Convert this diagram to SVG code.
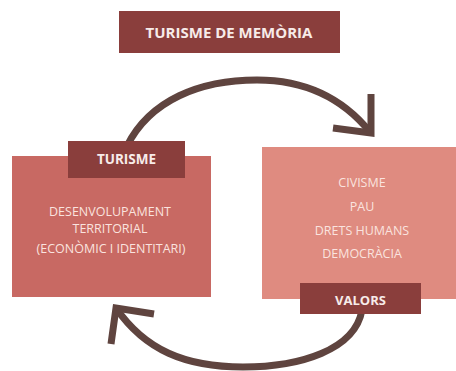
<svg xmlns="http://www.w3.org/2000/svg" width="456" height="371" viewBox="0 0 456 371">
<style>
.arrow{fill:none;stroke:#5f443f;stroke-width:7;stroke-linejoin:miter;stroke-linecap:butt}
.dark{fill:#8a3e3c}
.lbl{font-family:"Open Sans","Liberation Sans",sans-serif;font-weight:bold;fill:#f7ebe9;text-anchor:middle}
.body{font-family:"Open Sans","Liberation Sans",sans-serif;font-size:12.5px;fill:#fae3df;text-anchor:middle}
</style>
<rect width="456" height="371" fill="#ffffff"/>
<g id="connectors">
<path class="arrow" d="M127,146 C150,100 200,80 257,80 C300,80 340,95 370,132"/>
<polyline class="arrow" points="371,94 371,133 333,128"/>
<path class="arrow" d="M362,310 C355,350 300,367 243,367 C185,367 145,350 116,308"/>
<polyline class="arrow" points="111,344 116,308 154,314"/>
</g>
<g id="title">
<rect class="dark" x="119" y="11" width="221" height="42"/>
<text class="lbl" x="229" y="37.5" font-size="15">TURISME DE MEMÒRIA</text>
</g>
<g id="turisme">
<rect x="12" y="156" width="199" height="141" fill="#c86963"/>
<rect class="dark" x="68" y="141" width="117" height="37"/>
<text class="lbl" x="126.5" y="164" font-size="13.5">TURISME</text>
<text class="body" x="110" y="216">DESENVOLUPAMENT</text>
<text class="body" x="110" y="233">TERRITORIAL</text>
<text class="body" x="111" y="253">(ECONÒMIC I IDENTITARI)</text>
</g>
<g id="valors">
<rect x="262" y="147" width="194" height="152" fill="#df8b80"/>
<rect class="dark" x="300" y="283" width="121" height="31"/>
<text class="lbl" x="360.5" y="305" font-size="13">VALORS</text>
<text class="body" x="362" y="187">CIVISME</text>
<text class="body" x="362" y="211">PAU</text>
<text class="body" x="362" y="235">DRETS HUMANS</text>
<text class="body" x="362" y="258">DEMOCRÀCIA</text>
</g>
</svg>
